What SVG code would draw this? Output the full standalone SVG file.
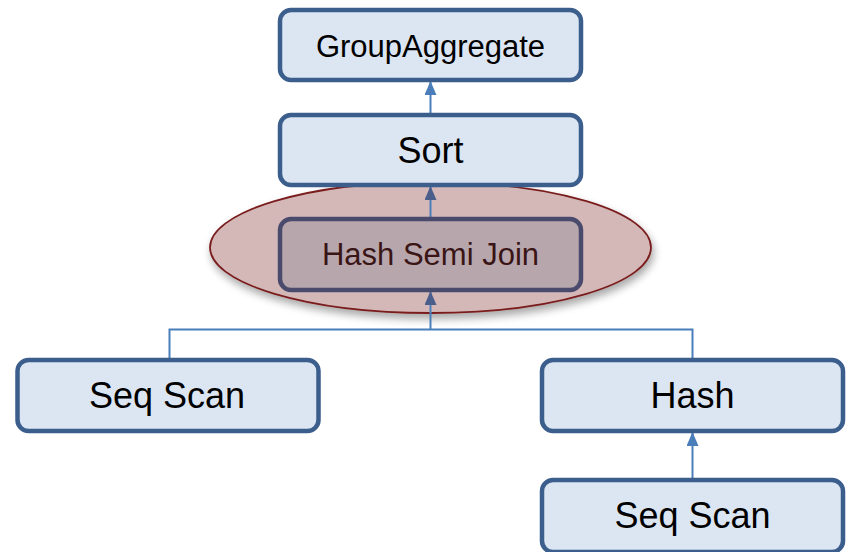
<svg xmlns="http://www.w3.org/2000/svg" width="848" height="552" viewBox="0 0 848 552">
<defs>
<style>
.box{fill:#DCE6F2;stroke:#3B5E8C;stroke-width:4.5}
.lbl{font-family:"Liberation Sans",Arial,sans-serif;fill:#000;text-anchor:middle}
.big{font-size:36px}
.mid{font-size:31px}
.conn{fill:none;stroke:#4A7EBB;stroke-width:2}
</style>
<marker id="arr" viewBox="0 0 14 12" refX="13" refY="6" markerWidth="14" markerHeight="12" markerUnits="userSpaceOnUse" orient="auto">
<path d="M0,0 L14,6 L0,12 Z" fill="#4A7EBB"/>
</marker>
<marker id="arrd" viewBox="0 0 14 12" refX="13" refY="6" markerWidth="14" markerHeight="12" markerUnits="userSpaceOnUse" orient="auto">
<path d="M0,0 L14,6 L0,12 Z" fill="#4A5E8C"/>
</marker>
<filter id="sh" x="-20%" y="-30%" width="140%" height="170%">
<feGaussianBlur in="SourceAlpha" stdDeviation="4"/>
<feOffset dx="2" dy="5" result="b"/>
<feComponentTransfer><feFuncA type="linear" slope="0.35"/></feComponentTransfer>
<feMerge><feMergeNode/><feMergeNode in="SourceGraphic"/></feMerge>
</filter>
</defs>
<rect width="848" height="552" fill="#fff"/>
<g id="highlight">
<ellipse cx="430.5" cy="247.5" rx="220.5" ry="65.5" fill="#D4B8B8" stroke="#7A1E1E" stroke-width="1.8" filter="url(#sh)"/>
</g>
<g id="connectors">
<line class="conn" x1="430.5" y1="113" x2="430.5" y2="82" marker-end="url(#arr)"/>
<line class="conn" x1="430.5" y1="218" x2="430.5" y2="187" stroke="#4A5E8C" marker-end="url(#arrd)"/>
<polyline class="conn" stroke-width="1.5" points="169.5,358 169.5,329.5 692.5,329.5 692.5,358"/>
<line class="conn" x1="430.5" y1="329.5" x2="430.5" y2="312" />
<line class="conn" x1="430.5" y1="313" x2="430.5" y2="292" stroke="#4A5E8C" marker-end="url(#arrd)"/>
<line class="conn" x1="692.5" y1="478" x2="692.5" y2="433" marker-end="url(#arr)"/>
</g>
<g id="groupaggregate">
<rect class="box" x="280" y="10" width="301" height="70" rx="11"/>
<text class="lbl mid" x="430.5" y="57">GroupAggregate</text>
</g>
<g id="sort">
<rect class="box" x="280" y="115" width="301" height="70" rx="11"/>
<text class="lbl big" x="430.5" y="163">Sort</text>
</g>
<g id="hashsemijoin">
<rect x="280" y="219" width="301" height="71" rx="11" fill="#B8A6AD" stroke="#4A4B6C" stroke-width="4.5"/>
<text class="lbl mid" x="430.5" y="265" style="fill:#3A1515">Hash Semi Join</text>
</g>
<g id="seqscan1">
<rect class="box" x="17.5" y="360" width="301" height="71" rx="11"/>
<text class="lbl big" x="167" y="408">Seq Scan</text>
</g>
<g id="hash">
<rect class="box" x="542" y="360" width="301" height="71" rx="11"/>
<text class="lbl big" x="692.5" y="408">Hash</text>
</g>
<g id="seqscan2">
<rect class="box" x="542" y="480" width="301" height="72" rx="11"/>
<text class="lbl big" x="692.5" y="528">Seq Scan</text>
</g>
</svg>
